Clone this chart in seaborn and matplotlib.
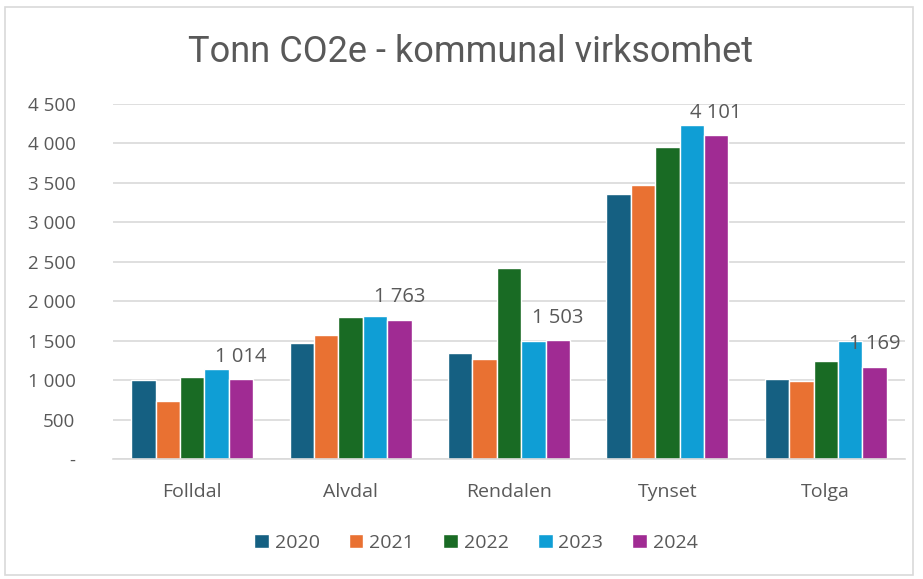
import pandas as pd
import matplotlib.pyplot as plt
import seaborn as sns
from matplotlib.patches import Rectangle
from matplotlib.ticker import FuncFormatter

# data
kommuner = ["Folldal", "Alvdal", "Rendalen", "Tynset", "Tolga"]
years = ["2020", "2021", "2022", "2023", "2024"]
v2020 = [1005, 1475, 1343, 3365, 1020]
v2021 = [735, 1578, 1268, 3470, 992]
v2022 = [1040, 1805, 2425, 3952, 1246]
v2023 = [1142, 1808, 1500, 4233, 1498]
v2024 = [1014, 1763, 1503, 4101, 1169]
colors = ["#156082", "#E97132", "#196B24", "#0F9ED5", "#A02B93"]

rows = []
for y, vals in zip(years, [v2020, v2021, v2022, v2023, v2024]):
    for k, v in zip(kommuner, vals):
        rows.append({"Kommune": k, "År": y, "Tonn": v})
df = pd.DataFrame(rows)

sns.set_style("white")
plt.rcParams["font.family"] = ["Open Sans", "DejaVu Sans"]
text_col = "#595959"

fig = plt.figure(figsize=(9.23, 5.79), dpi=100)
W, H = 923, 579
ax = fig.add_axes([113 / W, (H - 459) / H, 792 / W, 355 / H])

sns.barplot(data=df, x="Kommune", y="Tonn", hue="År", palette=colors,
            width=0.77, gap=0, saturation=1, ax=ax, legend=True)

ax.set_ylim(0, 4500)
ax.set_xlim(-0.5, 4.5)
ax.set_yticks(range(0, 4501, 500))
ax.yaxis.set_major_formatter(FuncFormatter(
    lambda v, p: "-" if v == 0 else f"{int(v):,}".replace(",", " ")))
ax.grid(axis="y", color="#D9D9D9", linewidth=1.2)
ax.set_axisbelow(True)
for s in ["top", "right", "left"]:
    ax.spines[s].set_visible(False)
ax.spines["bottom"].set_color("#D9D9D9")
ax.spines["bottom"].set_linewidth(1.2)
ax.tick_params(axis="y", length=0, pad=27, labelsize=13.5, labelcolor=text_col)
ax.tick_params(axis="x", length=0, pad=17, labelsize=14, labelcolor=text_col)
ax.set_xlabel("")
ax.set_ylabel("")

# labels only on the 2024 bars
last = ax.containers[-1]
ax.bar_label(last, labels=[f"{v:,}".replace(",", " ") for v in v2024],
             padding=9, fontsize=14.5, color=text_col)

handles, labels = ax.get_legend_handles_labels()
ax.get_legend().remove()
fig.legend(handles, labels, loc="center", bbox_to_anchor=(476 / W, 1 - 543 / H),
           ncol=5, frameon=False, fontsize=14, labelcolor=text_col,
           handlelength=0.75, handleheight=0.75, handletextpad=0.3, columnspacing=1.5)

fig.text(471 / W, 1 - 52 / H, "Tonn CO2e - kommunal virksomhet", ha="center",
         va="center", fontsize=26, color=text_col, family=["Roboto", "DejaVu Sans"])

fig.patches.append(Rectangle((5 / W, 4 / H), 908 / W, 568 / H, transform=fig.transFigure,
                             fill=False, edgecolor="#D9D9D9", linewidth=1.2))

fig.savefig("out.png", dpi=100)
